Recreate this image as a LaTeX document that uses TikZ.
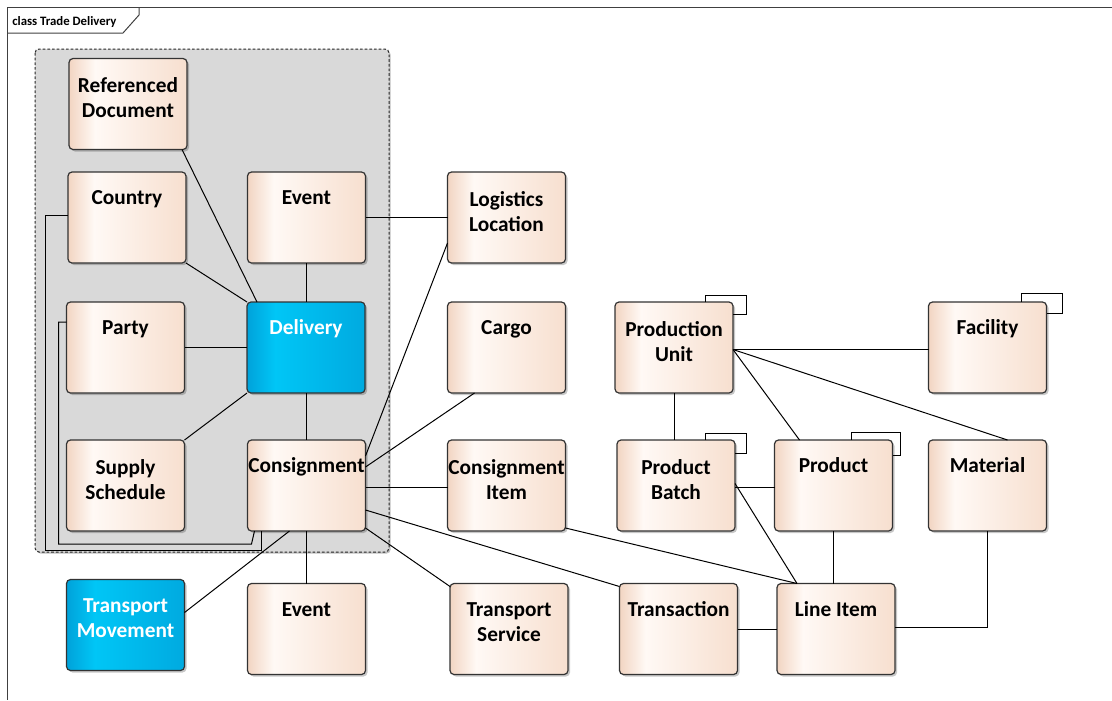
\documentclass[tikz,border=0pt]{standalone}
\usepackage{fontspec}
\setmainfont{Carlito}
\usetikzlibrary{shadows,calc}
\definecolor{pkL}{HTML}{F2D5C2}
\definecolor{pkM}{HTML}{FFF9F5}
\definecolor{pkR}{HTML}{F7DFCF}
\definecolor{blL}{HTML}{00A2DA}
\definecolor{blM}{HTML}{00C6F6}
\definecolor{blR}{HTML}{00AAE0}
\definecolor{pkgfill}{HTML}{D9D9D9}
\pgfdeclarehorizontalshading{peachsh}{100bp}{color(0bp)=(pkL); color(25bp)=(pkL); color(36bp)=(pkM); color(75bp)=(pkR); color(100bp)=(pkR)}
\pgfdeclarehorizontalshading{bluesh}{100bp}{color(0bp)=(blL); color(25bp)=(blL); color(37bp)=(blM); color(75bp)=(blR); color(100bp)=(blR)}
\tikzset{
  cls/.style={draw=black!80, line width=0.9pt, rounded corners=3pt, shading=peachsh,
    minimum width=88.5pt, minimum height=68.25pt, inner sep=0pt, outer sep=0pt,
    drop shadow={shadow xshift=1.5pt, shadow yshift=-1.5pt, opacity=0.22, fill=black}},
  bcls/.style={cls, shading=bluesh},
  ttl/.style={font=\bfseries\fontsize{16}{18.75}\selectfont, align=center, inner sep=0pt,
    anchor=north, execute at begin node=\strut},
  wttl/.style={ttl, text=white},
  conn/.style={draw=black, line width=0.75pt},
  pkg/.style={draw=black!85, line width=0.75pt, dash pattern=on 2pt off 1.5pt, fill=pkgfill,
    rounded corners=3pt, drop shadow={shadow xshift=1.2pt, shadow yshift=-1.2pt, opacity=0.25, fill=black}},
}
\newcommand{\oneL}{-11.2pt}
\newcommand{\twoL}{-14.3pt}
\begin{document}
\begin{tikzpicture}[x=0.75pt, y=-0.75pt]
\useasboundingbox (0,0) rectangle (1112,700);
% frame
\draw[line width=0.75pt, draw=black!75] (1112,7) -- (7,7) -- (7,700);
\draw[line width=0.75pt, draw=black!75] (7,33) -- (123,33) -- (139,15) -- (139,7);
\node[anchor=base west, inner sep=0pt, font=\bfseries\fontsize{9.6}{11}\selectfont] (hdr) at (12,25.5) {class Trade Delivery};
% package
\path[pkg] (35,49) rectangle (389,552);
% classes
\node[cls] (refdoc) at (128,104) {};
\node[cls] (country) at (127,217.5) {};
\node[cls] (event1) at (306.5,217.5) {};
\node[cls] (logloc) at (506.5,217.5) {};
\node[cls] (party) at (125.5,347.5) {};
\node[bcls] (delivery) at (306,347.5) {};
\node[cls] (cargo) at (506.5,347.5) {};
\node[cls] (produnit) at (674,347.5) {};
\node[cls] (facility) at (987.5,347.5) {};
\node[cls] (supply) at (125.5,485.5) {};
\node[cls] (consign) at (306.5,485.5) {};
\node[cls] (consitem) at (506.5,485.5) {};
\node[cls] (prodbatch) at (676,485.5) {};
\node[cls] (product) at (833.5,485.5) {};
\node[cls] (material) at (987.5,485.5) {};
\node[bcls] (transmov) at (125.5,625) {};
\node[cls] (event2) at (306.5,629) {};
\node[cls] (transserv) at (509,629) {};
\node[cls] (transaction) at (678.5,629) {};
\node[cls] (lineitem) at (836,629) {};
% titles
\node[ttl] (refdocT) at ([yshift=\twoL]refdoc.north) {Referenced\\Document};
\node[ttl] (countryT) at ([yshift=\oneL]country.north) {Country};
\node[ttl] (event1T) at ([yshift=\oneL]event1.north) {Event};
\node[ttl] (loglocT) at ([yshift=\twoL]logloc.north) {Logistics\\Location};
\node[ttl] (partyT) at ([yshift=\oneL]party.north) {Party};
\node[wttl] (deliveryT) at ([yshift=\oneL]delivery.north) {Delivery};
\node[ttl] (cargoT) at ([yshift=\oneL]cargo.north) {Cargo};
\node[ttl] (produnitT) at ([yshift=\twoL]produnit.north) {Production\\Unit};
\node[ttl] (facilityT) at ([yshift=\oneL]facility.north) {Facility};
\node[ttl] (supplyT) at ([yshift=\twoL]supply.north) {Supply\\Schedule};
\node[ttl] (consignT) at ([yshift=\oneL]consign.north) {Consignment};
\node[ttl] (consitemT) at ([yshift=\twoL]consitem.north) {Consignment\\Item};
\node[ttl] (prodbatchT) at ([yshift=\twoL]prodbatch.north) {Product\\Batch};
\node[ttl] (productT) at ([yshift=\oneL]product.north) {Product};
\node[ttl] (materialT) at ([yshift=\oneL]material.north) {Material};
\node[wttl] (transmovT) at ([yshift=\twoL]transmov.north) {Transport\\Movement};
\node[ttl] (event2T) at ([yshift=\oneL]event2.north) {Event};
\node[ttl] (transservT) at ([yshift=\twoL]transserv.north) {Transport\\Service};
\node[ttl] (transactionT) at ([yshift=\oneL]transaction.north) {Transaction};
\node[ttl] (lineitemT) at ([yshift=\oneL]lineitem.north) {Line Item};
% connectors
\draw[conn] ($(refdoc.south east)+(-5,0)$) -- ($(delivery.north west)+(10,0)$);
\draw[conn] (country.south east) -- (delivery.north west);
\draw[conn] (event1.south) -- (event1.south |- delivery.north);
\draw[conn] (event1.east) -- (logloc.west);
\draw[conn] (party.east) -- (party.east -| delivery.west);
\draw[conn] (supply.north east) -- (delivery.south west);
\draw[conn] (delivery.south) -- (delivery.south |- consign.north);
\draw[conn] ($(logloc.south west)+(0,-20)$) -- ($(consign.north east)+(0,16)$);
\draw[conn] ($(cargo.south west)+(27,0)$) -- ($(consign.north east)+(0,27)$);
\draw[conn] ($(consign.east)+(0,1.5)$) -- ($(consitem.west)+(0,1.5)$);
\draw[conn] ($(consign.north east)+(0,70)$) -- ($(transaction.north west)+(0,3)$);
\draw[conn] ($(consign.north east)+(0,88)$) -- ($(transserv.north west)+(0,3)$);
\draw[conn] ($(consitem.south east)+(0,-3)$) -- ($(lineitem.north west)+(20,0)$);
\draw[conn] ($(prodbatch.east)+(0,-2)$) -- ($(lineitem.north west)+(20,0)$);
\draw[conn] ($(prodbatch.east)+(0,1.5)$) -- ($(product.west)+(0,1.5)$);
\draw[conn] (product.south) -- (product.south |- lineitem.north);
\draw[conn] (material.south) |- ($(lineitem.east)+(0,-2)$);
\draw[conn] (transaction.east) -- (lineitem.west);
\draw[conn] (consign.south) -- (consign.south |- event2.north);
\draw[conn] ($(transmov.north east)+(0,33)$) -- ($(consign.south)+(-17,0)$);
\draw[conn] ($(party.north west)+(0,20)$) -- ++(-8,0) |- ($(consign.south west)+(4,13)$) -- ($(consign.south west)+(7,0)$);
\draw[conn] ($(country.west)+(0,-2.5)$) -- ++(-23,0) |- ($(consign.south west)+(14,19)$) -- ($(consign.south west)+(14,0)$);
\coordinate (pu) at ($(produnit.east)+(0,2)$);
\draw[conn] (pu) -- (pu -| facility.west);
\draw[conn] (pu) -- ($(product.north west)+(25,0)$);
\draw[conn] (pu) -- ($(material.north west)+(79,0)$);
\draw[conn] (produnit.south) -- (produnit.south |- prodbatch.north);
% self loops
\draw[conn] ($(produnit.north east)+(-28,0)$) -- ++(0,-7) -- ++(41,0) -- ++(0,19) -- ++(-13,0);
\draw[conn] ($(prodbatch.north east)+(-30,0)$) -- ++(0,-7) -- ++(41,0) -- ++(0,20) -- ++(-11,0);
\draw[conn] ($(product.north east)+(-41,0)$) -- ++(0,-8) -- ++(49,0) -- ++(0,23) -- ++(-8,0);
\draw[conn] ($(facility.north east)+(-25,0)$) -- ++(0,-9) -- ++(41,0) -- ++(0,20) -- ++(-16,0);
\end{tikzpicture}
\end{document}
